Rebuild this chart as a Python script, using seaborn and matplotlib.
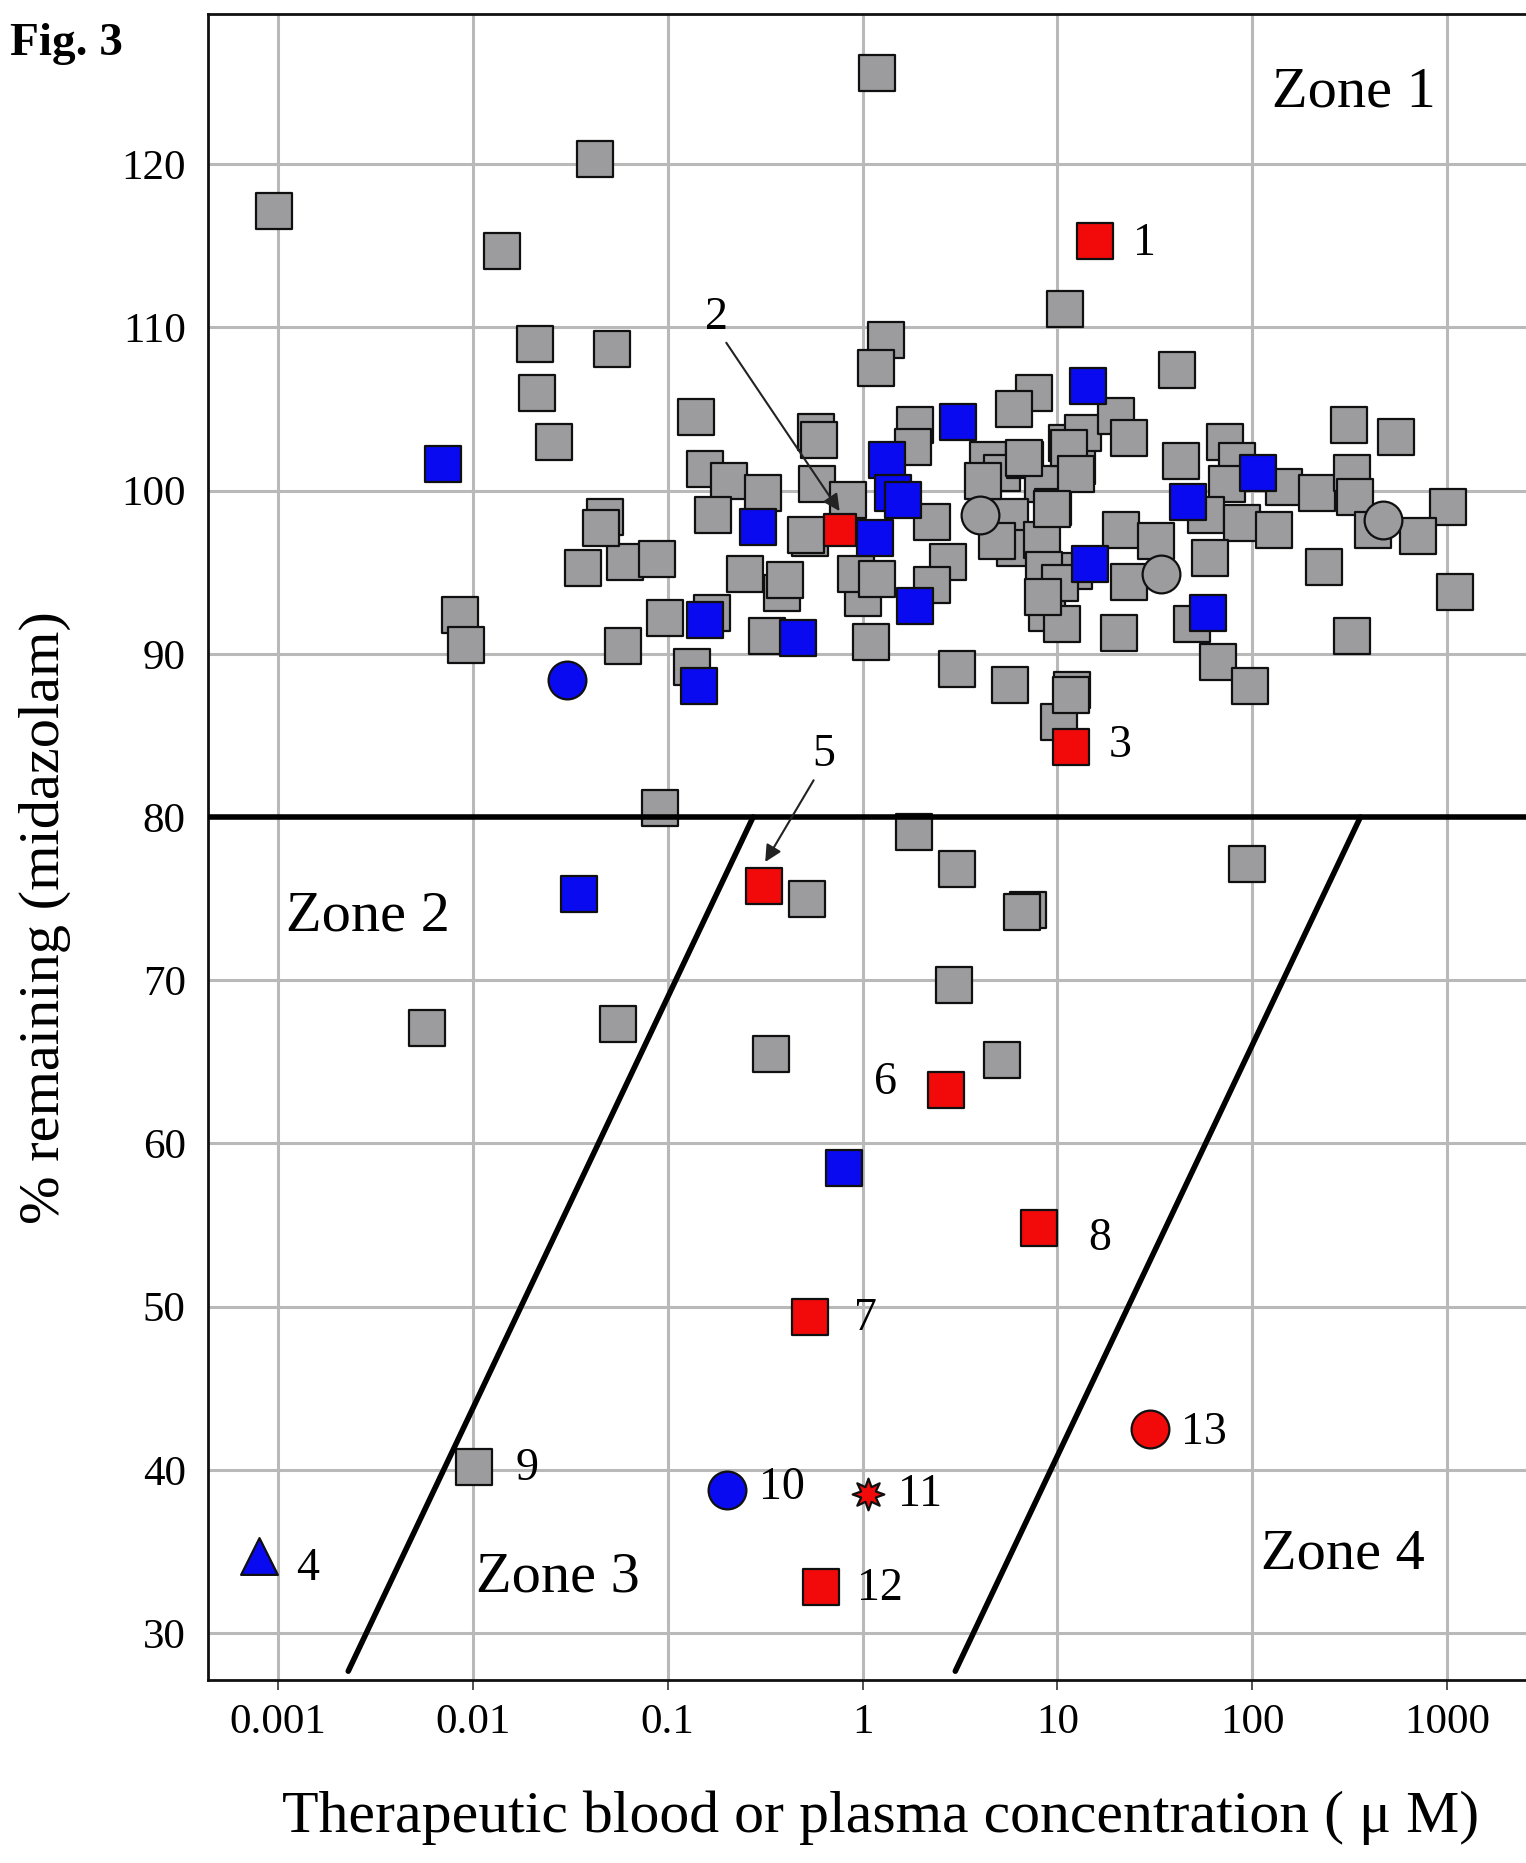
import numpy as np
import pandas as pd
import matplotlib
matplotlib.use("Agg")
import matplotlib.pyplot as plt
import seaborn as sns

# ---- data ----
# grey squares
gray_sq_x = [0.00095, 0.0423, 1.18, 0.0141, 0.0208, 0.0515, 0.0213, 0.0262, 10.9, 1.32,
             1.17, 41.3, 7.6, 6.0, 0.14, 0.577, 0.60, 0.581, 0.845, 1.86,
             1.82, 2.26, 2.75, 2.26, 1.11, 1.01, 0.93, 1.18, 0.537, 0.51,
             0.249, 0.384, 0.40, 0.322, 0.168, 0.0968, 0.059, 0.0603, 0.0877, 0.0476,
             0.0454, 0.0366, 0.00857, 0.0092, 0.155, 0.205, 0.171, 0.309, 0.133, 3.04,
             5.71, 11.9, 4.42, 5.18, 6.82, 8.47, 5.71, 9.53, 6.06, 8.3,
             12.1, 8.81, 10.5, 11.2, 12.6, 13.5, 19.9, 23.4, 11.4, 6.7,
             12.4, 9.38, 21.2, 32.1, 23.4, 8.5, 20.7, 43.2, 72.3, 83.2,
             145, 73.8, 58.2, 88.3, 128.6, 60.5, 215, 314, 547, 326,
             335, 415, 1012, 708, 1096, 233, 326, 49, 66.8, 97.5,
             10.2, 11.8, 4.15, 4.9, 10.3, 8.4,
             0.091, 0.519, 0.0058, 0.0554, 0.337, 1.83, 3.05, 7.1, 6.6, 93.7,
             2.95, 5.17, 0.0101]
gray_sq_y = [117.1, 120.3, 125.6, 114.7, 109.0, 108.7, 106.0, 103.0, 111.1, 109.2,
             107.5, 107.4, 106.0, 105.0, 104.5, 103.6, 103.1, 100.4, 99.4, 104.0,
             102.7, 98.1, 95.6, 94.2, 90.7, 93.4, 94.9, 94.6, 97.1, 97.3,
             94.9, 93.7, 94.5, 91.1, 92.5, 92.2, 90.5, 95.6, 95.8, 98.4,
             97.7, 95.25, 92.4, 90.55, 101.3, 100.6, 98.5, 99.85, 89.2, 89.1,
             88.1, 87.8, 101.9, 101.1, 101.9, 100.4, 98.4, 99.0, 96.5, 97.0,
             95.1, 92.5, 91.8, 102.9, 101.5, 103.5, 104.6, 103.2, 102.6, 102.0,
             101.0, 98.9, 97.6, 96.9, 94.4, 95.15, 91.3, 101.8, 103.0, 101.8,
             100.25, 100.4, 98.5, 98.0, 97.6, 95.9, 99.85, 104.0, 103.3, 101.1,
             99.6, 97.6, 99.0, 97.2, 93.8, 95.35, 91.1, 91.8, 89.5, 88.0,
             85.85, 87.5, 100.6, 96.9, 94.35, 93.5,
             80.55, 75.0, 67.1, 67.3, 65.5, 79.1, 76.8, 74.3, 74.2, 77.1,
             69.7, 65.1, 40.2]

# grey circles
gray_ci_x = [4.0, 34.0, 467]
gray_ci_y = [98.5, 94.9, 98.2]

# blue squares
blue_sq_x = [0.00704, 14.3, 3.10, 1.33, 1.44, 1.62, 1.16, 1.86, 0.468, 0.155,
             0.292, 0.145, 14.7, 107.6, 46.8, 59.3, 0.0352, 0.80]
blue_sq_y = [101.6, 106.4, 104.2, 101.9, 99.85, 99.4, 97.1, 92.9, 91.0, 92.1,
             97.8, 88.0, 95.5, 101.1, 99.3, 92.5, 75.3, 58.5]

# blue circles / triangle
blue_ci_x = [0.0305, 0.201]
blue_ci_y = [88.4, 38.75]
blue_tri_x = [0.000798]
blue_tri_y = [34.7]

# red (numbered compounds); compound 2 sits inside the cluster
red2_x = [0.765]
red2_y = [97.6]
red_sq_x = [15.5, 11.8, 0.31, 2.68, 0.539, 8.01, 0.611]
red_sq_y = [115.3, 84.3, 75.8, 63.3, 49.4, 54.8, 32.85]
red_ci_x = [30.0]
red_ci_y = [42.5]
red_star_x = [1.07]
red_star_y = [38.5]

# numbers next to the compounds
num_labels = ['1', '2', '3', '4', '5', '6', '7', '8', '9', '10', '11', '12', '13']
num_x = [28.0, 0.177, 21.1, 0.00141, 0.629, 1.31, 1.04, 16.4, 0.0189, 0.385, 1.96, 1.22, 56.5]
num_y = [115.15, 110.56, 84.34, 33.94, 83.83, 63.73, 49.24, 54.19, 40.06, 38.9, 38.46, 32.7, 42.3]

# zone boundaries
cut_off = 80
line1_x = [0.00229, 0.274]
line1_y = [27.67, 80]
line2_x = [2.99, 359]
line2_y = [27.67, 80]

zone_labels = ['Zone 1', 'Zone 2', 'Zone 3', 'Zone 4']
zone_x = [333, 0.0029, 0.0274, 293]
zone_y = [124.4, 73.9, 33.4, 34.8]

x_ticks = [0.001, 0.01, 0.1, 1, 10, 100, 1000]
x_tick_labels = ['0.001', '0.01', '0.1', '1', '10', '100', '1000']
y_ticks = [30, 40, 50, 60, 70, 80, 90, 100, 110, 120]

# ---- plot ----
sns.set_style("whitegrid")
plt.rcParams['font.family'] = ['Liberation Serif', 'DejaVu Serif']
plt.rcParams['text.color'] = 'black'
plt.rcParams['xtick.labelcolor'] = 'black'
plt.rcParams['ytick.labelcolor'] = 'black'

fig = plt.figure(figsize=(15.26, 18.63), dpi=100)
ax = fig.add_axes([208 / 1526, 1 - 1680 / 1863, 1318 / 1526, 1666 / 1863])
ax.set_xscale('log')

GRAY, BLUE, RED = '#9c9c9e', '#0a0af0', '#f20a0a'
kw = dict(ax=ax, edgecolor='#101010', linewidth=1.6, legend=False)

sns.scatterplot(x=gray_sq_x, y=gray_sq_y, marker='s', s=680, color=GRAY, zorder=3, **kw)
sns.scatterplot(x=gray_ci_x, y=gray_ci_y, marker='o', s=740, color=GRAY, zorder=3, **kw)
sns.scatterplot(x=red2_x, y=red2_y, marker='s', s=560, color=RED, zorder=3.5, **kw)
sns.scatterplot(x=blue_sq_x, y=blue_sq_y, marker='s', s=680, color=BLUE, zorder=4, **kw)
sns.scatterplot(x=blue_ci_x, y=blue_ci_y, marker='o', s=740, color=BLUE, zorder=4, **kw)
sns.scatterplot(x=blue_tri_x, y=blue_tri_y, marker='^', s=700, color=BLUE, zorder=4, **kw)
sns.scatterplot(x=red_sq_x, y=red_sq_y, marker='s', s=680, color=RED, zorder=5, **kw)
sns.scatterplot(x=red_ci_x, y=red_ci_y, marker='o', s=740, color=RED, zorder=5, **kw)
sns.scatterplot(x=red_star_x, y=red_star_y, marker=(8, 1, 0), s=520, color=RED, zorder=5, **kw)

# boundaries
ax.axhline(cut_off, color='black', lw=4, zorder=6)
sns.lineplot(x=line1_x, y=line1_y, ax=ax, color='black', lw=4, zorder=6)
sns.lineplot(x=line2_x, y=line2_y, ax=ax, color='black', lw=4, zorder=6)

# numbers and arrows
for t, x, y in zip(num_labels, num_x, num_y):
    ax.text(x, y, t, fontsize=33, ha='center', va='center', zorder=7)
ax.annotate('', xy=(0.776, 98.6), xytext=(0.196, 109.2),
            arrowprops=dict(arrowstyle='-|>', lw=1.5, color='#222222', mutation_scale=25), zorder=7)
ax.annotate('', xy=(0.311, 77.1), xytext=(0.570, 82.4),
            arrowprops=dict(arrowstyle='-|>', lw=1.5, color='#222222', mutation_scale=25), zorder=7)

for t, x, y in zip(zone_labels, zone_x, zone_y):
    ax.text(x, y, t, fontsize=42, ha='center', va='center', zorder=7)

# axes styling
ax.set_xlim(10 ** -3.36, 10 ** 3.405)
ax.set_ylim(27.13, 129.2)
ax.set_xticks(x_ticks)
ax.set_xticklabels(x_tick_labels)
ax.set_yticks(y_ticks)
ax.minorticks_off()
ax.grid(True, color='#b9b9b9', lw=2.2)
ax.set_axisbelow(True)
ax.tick_params(axis='x', length=7, width=1.2, color='#333333', labelsize=31, pad=10, bottom=True)
ax.tick_params(axis='y', length=0, labelsize=31, pad=16)
for side in ['left', 'bottom', 'top']:
    ax.spines[side].set_color('#111111')
    ax.spines[side].set_linewidth(2)
ax.spines['right'].set_visible(False)
ax.set_xlabel('')
ax.set_ylabel('')

fig.text(881 / 1526, 1 - 1818 / 1863, 'Therapeutic blood or plasma concentration ( \u03bc M)',
         fontsize=43, ha='center', va='center')
fig.text(45 / 1526, 1 - 918 / 1863, '% remaining (midazolam)', fontsize=42,
         rotation=90, ha='center', va='center')
fig.text(10 / 1526, 1 - 44 / 1863, 'Fig. 3', fontsize=34, fontweight='bold', ha='left', va='center')

fig.savefig('out.png', dpi=100)
